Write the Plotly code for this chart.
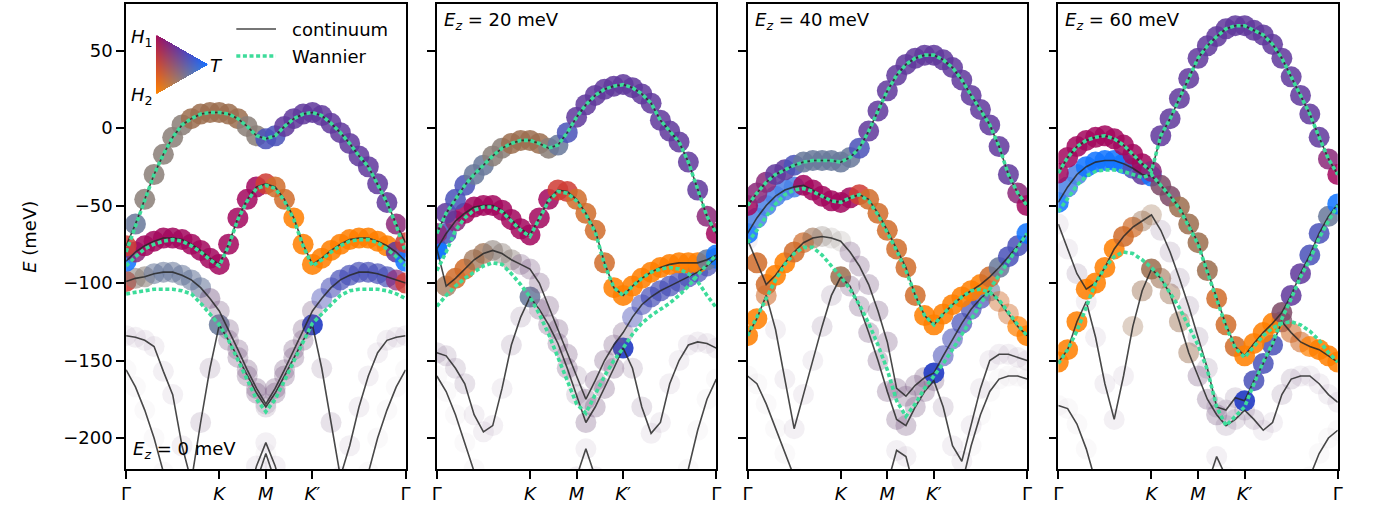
import numpy as np
import plotly.graph_objects as go

W, H = 1379, 513

# ---------------- axis / path data ----------------
k_path = [0.0, 0.1, 0.2, 0.3, 0.4, 0.5, 0.6, 0.7, 0.8, 0.9, 1.0, 1.1, 1.2, 1.3, 1.4, 1.5,
          1.6, 1.7, 1.8, 1.9, 2.0, 2.1, 2.2, 2.3, 2.4, 2.5, 2.6, 2.7, 2.8, 2.9, 3.0]
k_tick_vals = [0, 1, 1.5, 2, 3]
k_tick_text = ["Γ", "<i>K</i>", "<i>M</i>", "<i>K</i>′", "Γ"]
e_tick_vals = [-200, -150, -100, -50, 0, 50]
field_values = [0, 20, 40, 60]

# ---------------- Ez = 0 meV ----------------
ez0_c1 = [-76,-62,-46,-30,-17,-6,2,6,9,10,10,9,6,1,-5,-7,-5,1,6,9,10,8,3,-3,-10,-18,-25,-36,-48,-62,-74]
ez0_c2 = [-86,-80,-76,-73,-71,-71,-72,-75,-79,-84,-88,-75,-58,-46,-38,-36,-38,-46,-58,-75,-88,-84,-79,-75,-72,-71,-71,-73,-76,-80,-86]
ez0_c3 = [-99,-97,-96,-94,-93,-93,-95,-98,-103,-110,-118,-130,-143,-156,-168,-178,-168,-156,-143,-130,-118,-110,-103,-98,-95,-93,-93,-94,-96,-98,-100]
ez0_c4 = [-134,-135,-137,-141,-157,-172,-205,-228,-190,-155,-127,-137,-148,-160,-171,-180,-171,-160,-148,-137,-127,-155,-190,-225,-205,-180,-160,-145,-137,-135,-134]
ez0_c5 = [-156,-167,-182,-200,-222,-245,-260,-260,-260,-260,-260,-260,-260,-240,-218,-203,-218,-240,-260,-260,-260,-260,-260,-260,-260,-245,-222,-200,-182,-167,-156]
ez0_c6 = [-262,-262,-262,-262,-262,-262,-262,-262,-262,-262,-262,-262,-262,-250,-228,-210,-228,-250,-262,-262,-262,-262,-262,-262,-262,-262,-262,-262,-262,-262,-262]
ez0_w1 = [-80,-63,-46,-30,-17,-6,2,6,9,10,10,9,6,1,-5,-7,-5,1,6,9,10,8,3,-3,-10,-18,-25,-36,-48,-63,-80]
ez0_w2 = [-89,-83,-78,-75,-73,-72,-73,-76,-80,-85,-89,-76,-59,-47,-39,-37,-39,-47,-59,-76,-89,-85,-80,-76,-73,-72,-72,-74,-78,-83,-89]
ez0_w3 = [-107,-106,-105,-104,-104,-104,-105,-107,-113,-120,-127,-137,-150,-163,-175,-183,-175,-163,-150,-138,-126,-120,-114,-108,-105,-104,-104,-104,-105,-107,-110]
# layer character of each state (letter) and its weight shown as opacity (digit)
ez0_l1 = "DSGGGGGKKKKKKGGVVPPPPPPPPPPPPMD"
ez0_l2 = "BMRRRRRRRRRRRRRDNNOOOOOOOOOOOPB"
ez0_l3 = "DGGSSSSSSTTTTTTTTTTTTVVVVVVVVMD"
ez0_l4 = "TTTTTTTTTTSTTTTTTTTTWTTTTTTTTTT"
ez0_l5 = "TTTTTTTTTTTTTTTTTTTTTTTTTTTTTTT"
ez0_l6 = "TTTTTTTTTTTTTTTTTTTTTTTTTTTTTTT"
ez0_a1 = "8888888888888888888888888888888"
ez0_a2 = "8888888888888888888888888888888"
ez0_a3 = "8666666665444443444445677777778"
ez0_a4 = "2222222233" + "8" + "444434444" + "9" + "3322222222"
ez0_a5 = "1111111111111222221111111111111"
ez0_a6 = "1111111111111111111111111111111"

# ---------------- Ez = 20 meV ----------------
ez20_c1 = [-68,-55,-46,-37,-30,-24,-18,-13,-10,-8,-8,-10,-13,-11,-3,7,15,21,25,27,28,26,22,16,5,-2,-9,-22,-40,-57,-68]
ez20_c2 = [-78,-68,-60,-55,-51,-50,-50,-53,-59,-65,-69,-58,-46,-40,-41,-46,-55,-66,-87,-103,-108,-102,-97,-93,-90,-88,-87,-87,-87,-85,-82]
ez20_c3 = [-78,-102,-97,-91,-85,-81,-79,-81,-85,-88,-91,-100,-115,-130,-146,-160,-175,-163,-150,-140,-132,-122,-114,-109,-105,-102,-99,-96,-93,-89,-84]
ez20_c4 = [-145,-147,-155,-165,-185,-196,-192,-168,-140,-122,-109,-117,-127,-139,-155,-172,-190,-180,-168,-155,-142,-155,-180,-197,-190,-165,-150,-140,-138,-139,-142]
ez20_c5 = [-160,-170,-185,-203,-220,-240,-262,-262,-262,-262,-262,-262,-262,-262,-235,-225,-207,-225,-240,-262,-262,-262,-262,-262,-262,-262,-240,-220,-195,-175,-162]
ez20_w1 = [-68,-55,-46,-37,-30,-24,-18,-13,-10,-8,-8,-10,-13,-11,-3,7,15,21,25,27,28,26,22,16,5,-2,-9,-22,-40,-57,-68]
ez20_w2 = [-92,-80,-66,-58,-53,-51,-51,-54,-60,-66,-70,-59,-47,-41,-42,-47,-56,-67,-88,-103,-108,-102,-97,-93,-91,-90,-91,-94,-99,-108,-116]
ez20_w3 = [-115,-108,-102,-97,-93,-89,-87,-88,-94,-101,-109,-120,-133,-148,-163,-178,-184,-172,-160,-150,-142,-133,-126,-121,-117,-113,-108,-102,-95,-88,-82]
ez20_l1 = "MPVVSSGGKKKKGSVPPPPPPPPPPPPPPMR"
ez20_l2 = "BVMRRRRRRRRRRDDNNNNOOOOOOOOOOSB"
ez20_l3 = "BKNNKKGGGTT" + "TTTTTTTTTT" + "VVVVVVVVV" + "B"
ez20_l4 = "TTTTTTTTTTSTTTTTTTTTWTTTTTTTTTT"
ez20_l5 = "TTTTTTTTTTTTTTTTTTTTTTTTTTTTTTT"
ez20_a1 = "8888888888888888888888888888888"
ez20_a2 = "8888888888888888888888888888888"
ez20_a3 = "87887765544" + "4444344444" + "567777777" + "8"
ez20_a4 = "3333222233" + "8" + "444434444" + "9" + "3322222222"
ez20_a5 = "1111111111111112221111111111111"

# ---------------- Ez = 40 meV ----------------
ez40_c1 = [-50,-42,-35,-30,-27,-24,-22,-21,-21,-21,-22,-19,-13,-2,11,24,34,41,45,47,47,44,39,31,21,12,2,-12,-30,-42,-50]
ez40_c2 = [-68,-58,-50,-44,-40,-38,-37,-40,-44,-47,-48,-45,-43,-46,-55,-66,-78,-90,-108,-121,-127,-120,-114,-109,-105,-101,-96,-90,-83,-76,-68]
ez40_c3 = [-72,-87,-101,-95,-87,-80,-74,-71,-70,-71,-73,-80,-89,-101,-118,-138,-168,-173,-166,-161,-158,-147,-136,-126,-117,-110,-105,-112,-120,-128,-134]
ez40_c4 = [-134,-123,-108,-130,-162,-194,-172,-150,-128,-108,-96,-102,-115,-132,-150,-170,-188,-192,-180,-170,-163,-180,-205,-215,-192,-168,-150,-146,-146,-148,-150]
ez40_c5 = [-160,-165,-178,-194,-210,-225,-250,-262,-262,-262,-262,-262,-262,-262,-250,-230,-208,-212,-235,-250,-262,-262,-250,-230,-205,-185,-170,-162,-160,-160,-162]
ez40_w1 = [-50,-42,-35,-30,-27,-24,-22,-21,-21,-21,-22,-19,-13,-2,11,24,34,41,45,47,47,44,39,31,21,12,2,-12,-30,-42,-50]
ez40_w2 = [-74,-66,-57,-49,-43,-40,-39,-41,-44,-47,-48,-45,-43,-47,-56,-67,-79,-92,-108,-121,-127,-120,-114,-109,-105,-104,-106,-111,-119,-127,-134]
ez40_w3 = [-134,-122,-110,-98,-88,-81,-77,-77,-82,-89,-96,-104,-114,-126,-140,-156,-176,-186,-178,-168,-160,-152,-143,-133,-123,-113,-104,-95,-86,-77,-68]
ez40_l1 = "RMMPPVSSSSSSV" + "PPPPPPPPPPPPPPPP" + "MR"
ez40_l2 = "BLLLLLRRRRRRDNNNNNNOOOOOOONSVVB"
ez40_l3 = "TNNOONNKGGG" + "TTTTTTTTT" + "W" + "VVVVV" + "S" + "NNOO"
ez40_l4 = "OONTTTTTTTK" + "TTTTTTTTTTTTTTTTTTTT"
ez40_l5 = "TTTTTTTTTTTTTTTTTTTTTTTTTTTTTTT"
ez40_a1 = "8888888888888888888888888888888"
ez40_a2 = "8888888888888888888888888888888"
ez40_a3 = "28888876433" + "444444444" + "9" + "66777" + "6" + "5578"
ez40_a4 = "886" + "2222233" + "8" + "444444444" + "4" + "3222222222"
ez40_a5 = "1111111111111112221111111111111"

# ---------------- Ez = 60 meV ----------------
ez60_c1 = [-29,-19,-12,-8,-6,-5,-7,-11,-17,-23,-28,-5,6,19,32,45,53,59,64,66,66,63,60,54,45,33,21,9,-6,-20,-30]
ez60_c2 = [-48,-38,-30,-25,-22,-21,-21,-23,-26,-30,-31,-37,-44,-51,-62,-74,-92,-110,-127,-141,-147,-139,-132,-126,-119,-108,-94,-82,-68,-57,-49]
ez60_c3 = [-62,-78,-94,-104,-100,-90,-78,-70,-64,-60,-56,-66,-80,-97,-115,-135,-155,-180,-182,-174,-176,-163,-152,-140,-125,-132,-138,-141,-143,-147,-151]
ez60_c4 = [-151,-143,-125,-112,-135,-165,-188,-160,-128,-105,-91,-97,-107,-125,-145,-160,-175,-185,-192,-188,-182,-188,-195,-190,-172,-162,-160,-160,-165,-172,-177]
ez60_c5 = [-179,-181,-191,-207,-228,-250,-262,-262,-262,-262,-262,-262,-262,-262,-250,-240,-230,-212,-225,-245,-262,-262,-262,-262,-262,-250,-240,-225,-210,-200,-195]
ez60_w1 = [-29,-19,-12,-8,-6,-5,-7,-11,-17,-23,-28,-5,6,19,32,45,53,59,64,66,66,63,60,54,45,33,21,9,-6,-20,-30]
ez60_w2 = [-54,-45,-37,-31,-28,-27,-27,-28,-30,-32,-30,-37,-44,-52,-63,-75,-93,-111,-128,-142,-148,-141,-134,-129,-126,-125,-127,-131,-137,-145,-151]
ez60_w3 = [-152,-143,-131,-115,-100,-90,-83,-80,-81,-85,-90,-97,-106,-116,-128,-140,-156,-180,-192,-186,-180,-165,-151,-139,-123,-110,-96,-85,-71,-60,-50]
ez60_l1 = "RRRRRRRRRRMPPPPPPPPPPPPPPPPPPMR"
ez60_l2 = "BLLBBBBBVPB" + "QQKKKKNNN" + "OOOO" + "QPPVVSB"
ez60_l3 = "TTTOOOONNKK" + "TTTTTTTTT" + "WVVVQNNOOOO"
ez60_l4 = "OOOTTTTTKKKKKKK" + "TTTTTTTTTTTTTTTT"
ez60_l5 = "TTTTTTTTTTTTTTTTTTTTTTTTTTTTTTT"
ez60_a1 = "8888888888888888888888888888888"
ez60_a2 = "8888888888888888888888888888888"
ez60_a3 = "22388888754" + "333333333" + "98887667888"
ez60_a4 = "888" + "22222" + "45" + "8" + "6555" + "4443333223322222"
ez60_a5 = "1111111111111111121111111111111"

panels = [
    dict(ez=0, cont=[ez0_c1, ez0_c2, ez0_c3, ez0_c4, ez0_c5, ez0_c6],
         lay=[ez0_l1, ez0_l2, ez0_l3, ez0_l4, ez0_l5, ez0_l6],
         alp=[ez0_a1, ez0_a2, ez0_a3, ez0_a4, ez0_a5, ez0_a6],
         wan=[ez0_w1, ez0_w2, ez0_w3]),
    dict(ez=20, cont=[ez20_c1, ez20_c2, ez20_c3, ez20_c4, ez20_c5],
         lay=[ez20_l1, ez20_l2, ez20_l3, ez20_l4, ez20_l5],
         alp=[ez20_a1, ez20_a2, ez20_a3, ez20_a4, ez20_a5],
         wan=[ez20_w1, ez20_w2, ez20_w3]),
    dict(ez=40, cont=[ez40_c1, ez40_c2, ez40_c3, ez40_c4, ez40_c5],
         lay=[ez40_l1, ez40_l2, ez40_l3, ez40_l4, ez40_l5],
         alp=[ez40_a1, ez40_a2, ez40_a3, ez40_a4, ez40_a5],
         wan=[ez40_w1, ez40_w2, ez40_w3]),
    dict(ez=60, cont=[ez60_c1, ez60_c2, ez60_c3, ez60_c4, ez60_c5],
         lay=[ez60_l1, ez60_l2, ez60_l3, ez60_l4, ez60_l5],
         alp=[ez60_a1, ez60_a2, ez60_a3, ez60_a4, ez60_a5],
         wan=[ez60_w1, ez60_w2, ez60_w3]),
]

for pn in panels:
    for arr in pn["cont"] + pn["wan"] + pn["lay"] + pn["alp"]:
        assert len(arr) == len(k_path), (pn["ez"], len(arr))

# ---------------- styles ----------------
layer_colors = {
    'R': '#a3085e', 'O': '#ff7f00', 'B': '#1274ff', 'L': '#4a82e6',
    'P': '#61399c', 'V': '#4b53b9', 'W': '#2a42c6', 'D': '#cf3c36',
    'N': '#d06d2c', 'G': '#8b7f78', 'K': '#9c6f4f', 'S': '#69799b',
    'M': '#8c2a7a', 'Q': '#7e4a68', 'T': '#7b5d87',
}
opacity_of = {'1': 0.04, '2': 0.09, '3': 0.18, '4': 0.32, '5': 0.45,
              '6': 0.58, '7': 0.72, '8': 0.86, '9': 0.95}


def rgba(hexc, a):
    h = hexc.lstrip('#')
    r, g, b = int(h[0:2], 16), int(h[2:4], 16), int(h[4:6], 16)
    return f"rgba({r},{g},{b},{a:.2f})"


FONT = "DejaVu Sans"
FS = 18
GREEN = '#3ddc9a'
LINE_C = 'rgba(40,40,40,0.85)'
panel_px = [(122, 403.5), (435, 716.5), (748, 1029.5), (1061, 1342.5)]
y_top_px, y_bot_px = 4, 469

fig = go.Figure()

for p, pn in enumerate(panels):
    xa = 'x' if p == 0 else f'x{p+1}'
    ya = 'y' if p == 0 else f'y{p+1}'
    # coloured markers: lowest band first
    for band, lay, alp in reversed(list(zip(pn["cont"], pn["lay"], pn["alp"]))):
        cols = [rgba(layer_colors[c], opacity_of[a]) for c, a in zip(lay, alp)]
        fig.add_trace(go.Scatter(x=k_path, y=band, mode='markers',
                                 marker=dict(size=21, color=cols, line=dict(width=0)),
                                 xaxis=xa, yaxis=ya, showlegend=False, hoverinfo='skip'))
    for band in pn["cont"]:
        fig.add_trace(go.Scatter(x=k_path, y=band, mode='lines',
                                 line=dict(color=LINE_C, width=1.6),
                                 xaxis=xa, yaxis=ya, showlegend=False, hoverinfo='skip'))
    for band in pn["wan"]:
        fig.add_trace(go.Scatter(x=k_path, y=band, mode='lines',
                                 line=dict(color=GREEN, width=3.6, dash='4px,2.6px'),
                                 xaxis=xa, yaxis=ya, showlegend=False, hoverinfo='skip'))

    x0, x1 = panel_px[p]
    axis_common = dict(showline=True, mirror=True, linecolor='black', linewidth=1.6,
                       ticks='outside', ticklen=8, tickwidth=1.6, tickcolor='black',
                       showgrid=False, zeroline=False,
                       tickfont=dict(family=FONT, size=FS, color='black'))
    xkey = 'xaxis' if p == 0 else f'xaxis{p+1}'
    ykey = 'yaxis' if p == 0 else f'yaxis{p+1}'
    fig.update_layout({
        xkey: dict(domain=[x0 / W, x1 / W], range=[0, 3], tickmode='array',
                   tickvals=k_tick_vals, ticktext=k_tick_text, anchor=ya, **axis_common),
        ykey: dict(domain=[1 - y_bot_px / H, 1 - y_top_px / H], range=[-220, 80],
                   tickmode='array', tickvals=e_tick_vals, anchor=xa,
                   showticklabels=(p == 0), **axis_common),
    })

# ---------------- triangle colour key (H1, H2, T) ----------------
tri_w, tri_h = 52, 59
A = (0.0, 0.0); Bv = (0.0, 58.0); C = (51.0, 29.0)
vert_cols = np.array([[160, 14, 92], [255, 130, 0], [22, 112, 255]], float)
yy, xx = np.mgrid[0:tri_h, 0:tri_w].astype(float)
den = (Bv[1] - C[1]) * (A[0] - C[0]) + (C[0] - Bv[0]) * (A[1] - C[1])
wa = ((Bv[1] - C[1]) * (xx - C[0]) + (C[0] - Bv[0]) * (yy - C[1])) / den
wb = ((C[1] - A[1]) * (xx - C[0]) + (A[0] - C[0]) * (yy - C[1])) / den
wc = 1 - wa - wb
inside = (wa >= -0.01) & (wb >= -0.01) & (wc >= -0.01)
rgb = (np.clip(wa, 0, 1)[..., None] * vert_cols[0] + np.clip(wb, 0, 1)[..., None] * vert_cols[1]
       + np.clip(wc, 0, 1)[..., None] * vert_cols[2])
img = np.zeros((tri_h, tri_w, 4))
img[..., :3] = np.clip(rgb, 0, 255)
img[..., 3] = inside.astype(float)
fig.add_trace(go.Image(z=img, colormodel='rgba', xaxis='x5', yaxis='y5', hoverinfo='skip'))
fig.update_layout(
    xaxis5=dict(domain=[152 / W, 204 / W], range=[-0.5, 51.5], visible=False, anchor='y5'),
    yaxis5=dict(domain=[1 - 94 / H, 1 - 35 / H], range=[58.5, -0.5], visible=False, anchor='x5'),
)

# ---------------- legend (drawn manually) ----------------
shapes = [
    dict(type='line', xref='paper', yref='paper', x0=233 / W, x1=273 / W, y0=1 - 29 / H, y1=1 - 29 / H,
         line=dict(color=LINE_C, width=1.6)),
    dict(type='line', xref='paper', yref='paper', x0=233 / W, x1=273 / W, y0=1 - 56 / H, y1=1 - 56 / H,
         line=dict(color=GREEN, width=3.6, dash='4px,2.6px')),
]

annos = [
    dict(text="continuum", x=287 / W, y=1 - 29 / H, xanchor='left', yanchor='middle'),
    dict(text="Wannier", x=287 / W, y=1 - 56 / H, xanchor='left', yanchor='middle'),
    dict(text="<i>H</i><sub>1</sub>", x=151 / W, y=1 - 38 / H, xanchor='right', yanchor='middle'),
    dict(text="<i>H</i><sub>2</sub>", x=151 / W, y=1 - 96 / H, xanchor='right', yanchor='middle'),
    dict(text="<i>T</i>", x=204 / W, y=1 - 65 / H, xanchor='left', yanchor='middle'),
    dict(text="<i>E</i> (meV)", x=24 / W, y=1 - 237 / H, xanchor='center', yanchor='middle', textangle=-90),
]
ez_pos = [(127, 450), (440, 21), (753, 21), (1066, 21)]
for (px, py), ez in zip(ez_pos, field_values):
    annos.append(dict(text=f"<i>E</i><sub><i>z</i></sub> = {ez} meV", x=px / W, y=1 - py / H,
                      xanchor='left', yanchor='middle'))
for a in annos:
    a.update(xref='paper', yref='paper', showarrow=False, font=dict(family=FONT, size=FS, color='black'))

fig.update_layout(
    width=W, height=H, margin=dict(l=0, r=0, t=0, b=0),
    paper_bgcolor='white', plot_bgcolor='white',
    font=dict(family=FONT, size=FS, color='black'),
    showlegend=False, shapes=shapes, annotations=annos,
)

fig.write_html("out.html")
